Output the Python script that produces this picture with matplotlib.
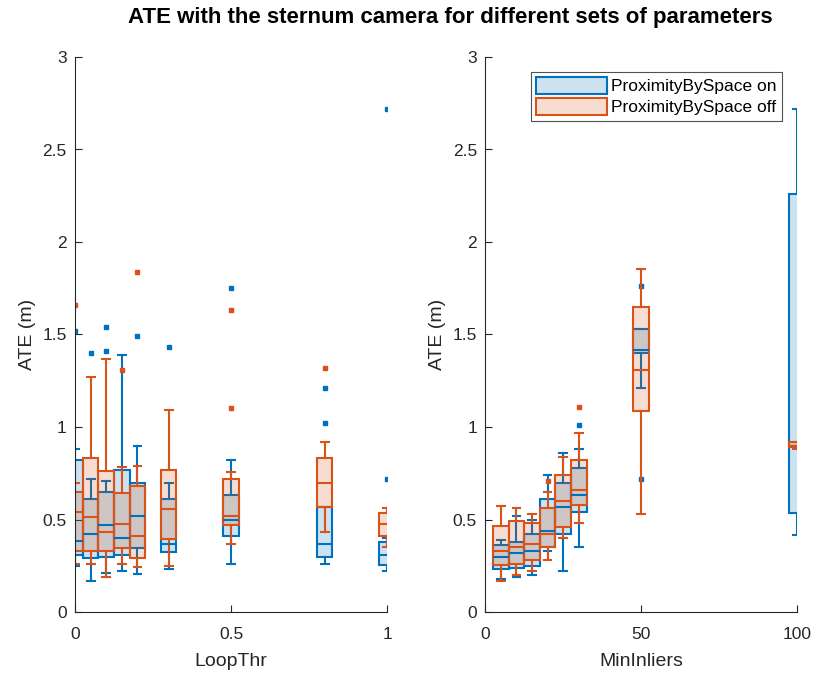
import numpy as np
import matplotlib.pyplot as plt
import matplotlib.ticker as mtick
from matplotlib.colors import to_rgba
from matplotlib.patches import Patch

plt.rcParams['font.family'] = ['Liberation Sans', 'DejaVu Sans']

BLUE = '#0072BD'
ORANGE = '#D95319'
AXC = '#262626'

# ---- LoopThr (left) ----
loop_thr = [0, 0.05, 0.1, 0.15, 0.2, 0.3, 0.5, 0.8, 1.0]
# ProximityBySpace on
lt_on_wlo = [0.25, 0.17, 0.21, 0.22, 0.205, 0.23, 0.26, 0.26, 0.22]
lt_on_q1 = [0.31, 0.29, 0.30, 0.31, 0.345, 0.325, 0.41, 0.30, 0.255]
lt_on_med = [0.385, 0.42, 0.47, 0.40, 0.52, 0.37, 0.50, 0.37, 0.31]
lt_on_q3 = [0.82, 0.61, 0.65, 0.77, 0.70, 0.61, 0.63, 0.57, 0.38]
lt_on_whi = [0.88, 0.72, 0.71, 1.39, 0.90, 0.70, 0.82, 0.57, 0.40]
lt_on_out = [[1.52], [1.40], [1.41, 1.54], [], [1.49], [1.43], [1.75], [1.02, 1.21], [0.72, 2.72]]
# ProximityBySpace off
lt_off_wlo = [0.26, 0.26, 0.19, 0.26, 0.245, 0.25, 0.37, 0.43, 0.35]
lt_off_q1 = [0.33, 0.33, 0.33, 0.345, 0.29, 0.395, 0.47, 0.565, 0.41]
lt_off_med = [0.54, 0.515, 0.43, 0.475, 0.41, 0.555, 0.52, 0.70, 0.475]
lt_off_q3 = [0.65, 0.83, 0.76, 0.645, 0.68, 0.77, 0.72, 0.83, 0.535]
lt_off_whi = [0.70, 1.27, 1.37, 0.785, 0.79, 1.09, 0.755, 0.92, 0.56]
lt_off_out = [[1.66], [], [], [1.31], [1.84], [], [1.10, 1.63], [1.32], []]

# ---- MinInliers (right) ----
min_inl = [5, 10, 15, 20, 25, 30, 50, 100]
mi_on_wlo = [0.18, 0.19, 0.20, 0.33, 0.22, 0.35, 1.21, 0.415]
mi_on_q1 = [0.23, 0.24, 0.25, 0.35, 0.42, 0.54, 1.40, 0.535]
mi_on_med = [0.30, 0.32, 0.33, 0.44, 0.57, 0.63, 1.418, 0.90]
mi_on_q3 = [0.36, 0.38, 0.42, 0.61, 0.70, 0.78, 1.53, 2.26]
mi_on_whi = [0.39, 0.52, 0.50, 0.74, 0.86, 0.88, 1.53, 2.72]
mi_on_out = [[], [], [], [], [], [1.01], [0.72, 1.76], []]
mi_off_wlo = [0.17, 0.20, 0.22, 0.28, 0.40, 0.48, 0.53, 0.88]
mi_off_q1 = [0.255, 0.26, 0.28, 0.35, 0.46, 0.58, 1.086, 0.89]
mi_off_med = [0.33, 0.35, 0.37, 0.42, 0.60, 0.66, 1.31, 0.90]
mi_off_q3 = [0.465, 0.49, 0.48, 0.56, 0.74, 0.82, 1.646, 0.92]
mi_off_whi = [0.575, 0.56, 0.53, 0.65, 0.84, 0.97, 1.855, 0.92]
mi_off_out = [[], [], [], [0.71], [], [1.11], [], []]


def make_stats(wlo, q1, med, q3, whi, out):
    return [dict(whislo=a, q1=b, med=c, q3=d, whishi=e, fliers=f)
            for a, b, c, d, e, f in zip(wlo, q1, med, q3, whi, out)]


def draw(ax, pos, stats, color, w):
    lp = dict(color=color, linewidth=1.5)
    ax.bxp(stats, positions=pos, widths=w, capwidths=w * 0.5,
           patch_artist=True, manage_ticks=False,
           boxprops=dict(facecolor=to_rgba(color, 0.2), edgecolor=color, linewidth=1.5),
           medianprops=lp, whiskerprops=lp, capprops=lp,
           flierprops=dict(marker='s', markersize=2.6, markerfacecolor=color,
                           markeredgecolor=color, linestyle='none'))


def style_ax(ax, xlabel, xticks):
    ax.set_ylim(0, 3)
    ax.set_yticks(np.arange(0, 3.01, 0.5))
    ax.set_xticks(xticks)
    fmt = mtick.FuncFormatter(lambda v, p: '%g' % v)
    ax.yaxis.set_major_formatter(fmt)
    ax.xaxis.set_major_formatter(fmt)
    ax.spines['top'].set_visible(False)
    ax.spines['right'].set_visible(False)
    for s in ('left', 'bottom'):
        ax.spines[s].set_color(AXC)
        ax.spines[s].set_linewidth(0.8)
    ax.tick_params(direction='in', length=5, width=0.8, colors=AXC, labelsize=12.5, pad=6)
    ax.tick_params(axis='x', pad=11)
    ax.set_xlabel(xlabel, fontsize=14, color=AXC, labelpad=7.5)
    ax.set_ylabel('ATE (m)', fontsize=14, color=AXC, labelpad=4.5)


fig = plt.figure(figsize=(8.17, 6.77), dpi=100)
ax1 = fig.add_axes([75 / 817, 65 / 677, 312 / 817, 555 / 677])
ax2 = fig.add_axes([485.3 / 817, 65 / 677, 311.4 / 817, 555 / 677])

draw(ax1, loop_thr, make_stats(lt_on_wlo, lt_on_q1, lt_on_med, lt_on_q3, lt_on_whi, lt_on_out), BLUE, 0.05)
draw(ax1, loop_thr, make_stats(lt_off_wlo, lt_off_q1, lt_off_med, lt_off_q3, lt_off_whi, lt_off_out), ORANGE, 0.05)
ax1.set_xlim(0, 1)
style_ax(ax1, 'LoopThr', [0, 0.5, 1])

draw(ax2, min_inl, make_stats(mi_on_wlo, mi_on_q1, mi_on_med, mi_on_q3, mi_on_whi, mi_on_out), BLUE, 5)
draw(ax2, min_inl, make_stats(mi_off_wlo, mi_off_q1, mi_off_med, mi_off_q3, mi_off_whi, mi_off_out), ORANGE, 5)
ax2.set_xlim(0, 100)
style_ax(ax2, 'MinInliers', [0, 50, 100])

handles = [Patch(facecolor=to_rgba(BLUE, 0.2), edgecolor=BLUE, linewidth=1.5, label='ProximityBySpace on'),
           Patch(facecolor=to_rgba(ORANGE, 0.2), edgecolor=ORANGE, linewidth=1.5, label='ProximityBySpace off')]
leg = ax2.legend(handles=handles, loc='upper right', fontsize=12.5, frameon=True, fancybox=False,
                 handlelength=4.1, handleheight=1.15, handletextpad=0.25, borderpad=0.3,
                 labelspacing=0.2, borderaxespad=0.85)
leg.get_frame().set_edgecolor(AXC)
leg.get_frame().set_linewidth(0.8)

fig.text(0.551, 0.974, 'ATE with the sternum camera for different sets of parameters',
         ha='center', va='center', fontsize=16, fontweight='bold', color='black')

fig.savefig('out.png', dpi=100)
